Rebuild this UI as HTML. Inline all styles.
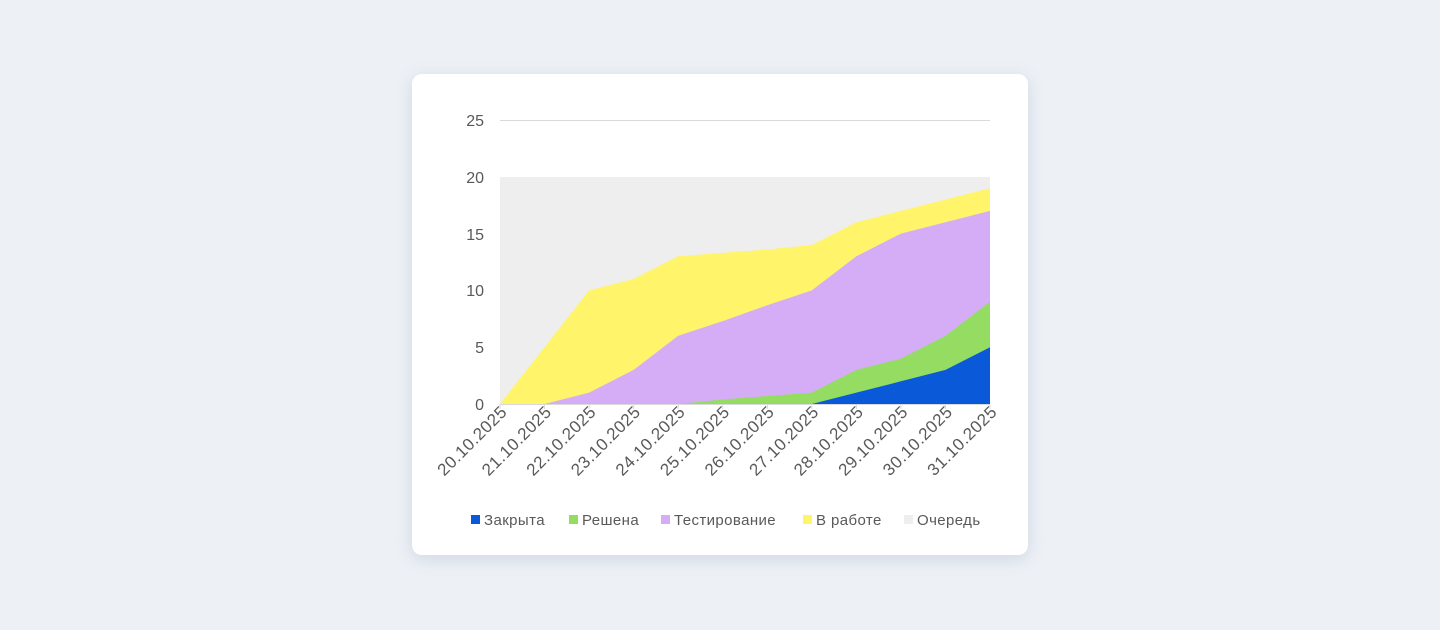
<!DOCTYPE html>
<html><head><meta charset="utf-8"><style>
html,body{margin:0;padding:0;background:#edf1f6;width:1440px;height:630px;overflow:hidden}
.card{position:absolute;left:412px;top:74px;width:616px;height:481px;background:#fff;border-radius:10px;box-shadow:0 4px 16px rgba(120,140,170,0.25)}
svg{position:absolute;left:0;top:0}
text{font-family:"Liberation Sans","DejaVu Sans",sans-serif;fill:#595959}
</style></head><body>
<div class="card"></div>
<svg width="1440" height="630">
<line x1="500" y1="120.5" x2="990" y2="120.5" stroke="#d9d9d9" stroke-width="1"/>
<rect x="500" y="177" width="490" height="227" fill="#eeeeee"/>
<polygon fill="#fff46a" points="500,404 544.5,347.2 589.1,290.4 633.6,279 678.2,256.3 722.7,252.9 767.3,249.5 811.8,245 856.4,222.2 900.9,210.9 945.5,199.5 990,188.2 990,404"/>
<polygon fill="#d5adf7" points="544.5,404 589.1,392.6 633.6,369.9 678.2,335.8 722.7,321.1 767.3,305.2 811.8,290.4 856.4,256.3 900.9,233.6 945.5,222.2 990,210.9 990,404"/>
<polygon fill="#95dd62" points="678.2,404 722.7,399.5 767.3,396 811.8,392.6 856.4,369.9 900.9,358.6 945.5,335.8 990,301.8 990,404"/>
<polygon fill="#0a59d8" points="811.8,404 856.4,392.6 900.9,381.3 945.5,369.9 990,347.2 990,404"/>
<line x1="500" y1="404.5" x2="990" y2="404.5" stroke="#d9d9d9"/>
<g stroke="#d9d9d9">
<line x1="500" y1="404" x2="500" y2="409"/><line x1="544.5" y1="404" x2="544.5" y2="409"/><line x1="589.1" y1="404" x2="589.1" y2="409"/><line x1="633.6" y1="404" x2="633.6" y2="409"/><line x1="678.2" y1="404" x2="678.2" y2="409"/><line x1="722.7" y1="404" x2="722.7" y2="409"/><line x1="767.3" y1="404" x2="767.3" y2="409"/><line x1="811.8" y1="404" x2="811.8" y2="409"/><line x1="856.4" y1="404" x2="856.4" y2="409"/><line x1="900.9" y1="404" x2="900.9" y2="409"/><line x1="945.5" y1="404" x2="945.5" y2="409"/><line x1="990" y1="404" x2="990" y2="409"/>
</g>
<g font-size="16" text-anchor="end">
<text x="484" y="126">25</text><text x="484" y="183">20</text><text x="484" y="240">15</text><text x="484" y="296">10</text><text x="484" y="353">5</text><text x="484" y="410">0</text>
</g>
<g font-size="17" text-anchor="end" letter-spacing="0.5">
<text transform="translate(508,413) rotate(-45)">20.10.2025</text>
<text transform="translate(552.5,413) rotate(-45)">21.10.2025</text>
<text transform="translate(597.1,413) rotate(-45)">22.10.2025</text>
<text transform="translate(641.6,413) rotate(-45)">23.10.2025</text>
<text transform="translate(686.2,413) rotate(-45)">24.10.2025</text>
<text transform="translate(730.7,413) rotate(-45)">25.10.2025</text>
<text transform="translate(775.3,413) rotate(-45)">26.10.2025</text>
<text transform="translate(819.8,413) rotate(-45)">27.10.2025</text>
<text transform="translate(864.4,413) rotate(-45)">28.10.2025</text>
<text transform="translate(908.9,413) rotate(-45)">29.10.2025</text>
<text transform="translate(953.5,413) rotate(-45)">30.10.2025</text>
<text transform="translate(998,413) rotate(-45)">31.10.2025</text>
</g>
<g font-size="15" letter-spacing="0.4">
<rect x="471" y="515" width="9" height="9" fill="#0a59d8"/><text x="484" y="525">Закрыта</text>
<rect x="569" y="515" width="9" height="9" fill="#95dd62"/><text x="582" y="525">Решена</text>
<rect x="661" y="515" width="9" height="9" fill="#d5adf7"/><text x="674" y="525">Тестирование</text>
<rect x="803" y="515" width="9" height="9" fill="#fff46a"/><text x="816" y="525">В работе</text>
<rect x="904" y="515" width="9" height="9" fill="#eeeeee"/><text x="917" y="525">Очередь</text>
</g>
</svg>
</body></html>
